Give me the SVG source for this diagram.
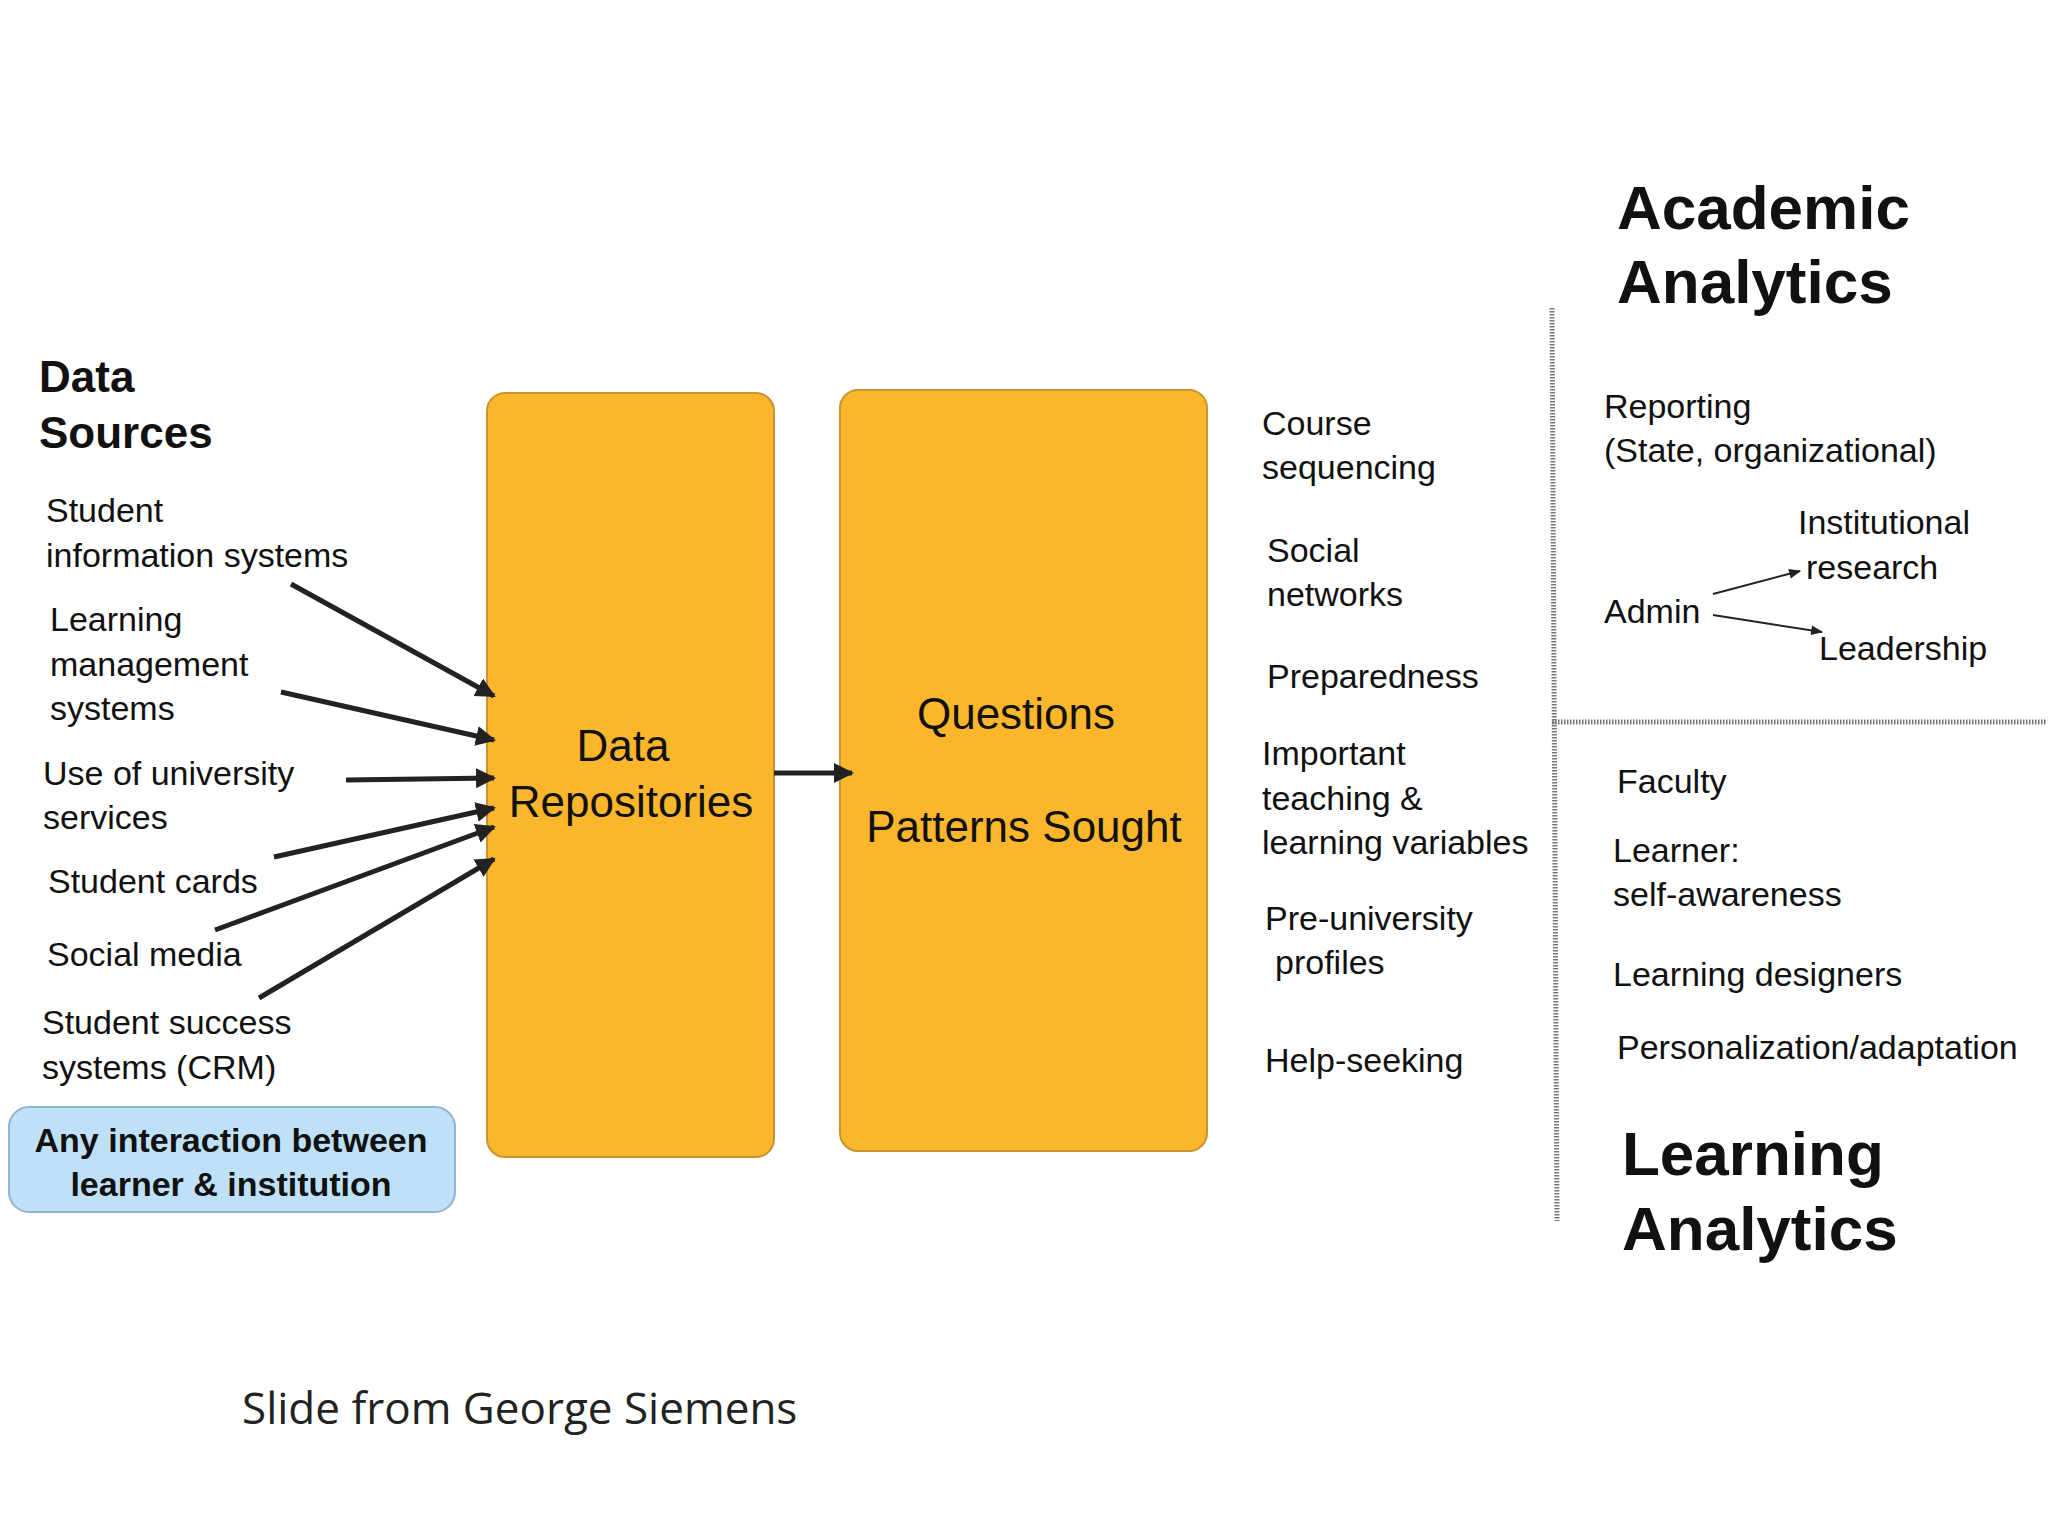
<svg xmlns="http://www.w3.org/2000/svg" width="2048" height="1536" viewBox="0 0 2048 1536">
<defs>
<style>
text{font-family:"Liberation Sans",Arial,sans-serif;fill:#111}
.t{font-size:34px}
.h{font-size:44px;font-weight:bold}
.H{font-size:62px;font-weight:bold}
.box{fill:#FBB62B;stroke:#C99430;stroke-width:2}
.ln{stroke:#222;stroke-width:5;fill:none}
.sl{stroke:#222;stroke-width:2;fill:none}
.dv{stroke:#777;stroke-width:5;stroke-dasharray:1.5 1.5;fill:none}
</style>
<marker id="a" viewBox="0 0 10 10" refX="9" refY="5" markerWidth="4" markerHeight="4" orient="auto"><path d="M0,0L10,5L0,10z" fill="#222"/></marker>
<marker id="s" viewBox="0 0 10 10" refX="9" refY="5" markerWidth="7" markerHeight="6" orient="auto"><path d="M0,1L10,5L0,9z" fill="#222"/></marker>
</defs>
<rect width="2048" height="1536" fill="#fff"/>
<g id="sources">
<text class="h" x="39" y="392">Data</text>
<text class="h" x="39" y="448">Sources</text>
<text class="t" x="46" y="522">Student</text>
<text class="t" x="46" y="567">information systems</text>
<text class="t" x="50" y="631">Learning</text>
<text class="t" x="50" y="676">management</text>
<text class="t" x="50" y="720">systems</text>
<text class="t" x="43" y="785">Use of university</text>
<text class="t" x="43" y="829">services</text>
<text class="t" x="48" y="893">Student cards</text>
<text class="t" x="47" y="966">Social media</text>
<text class="t" x="42" y="1034">Student success</text>
<text class="t" x="42" y="1079">systems (CRM)</text>
</g>
<g id="interaction">
<rect x="9" y="1107" width="446" height="105" rx="20" fill="#BFE1F7" stroke="#8FB3D2" stroke-width="2"/>
<text class="t" x="231" y="1152" text-anchor="middle" font-weight="bold">Any interaction between</text>
<text class="t" x="231" y="1196" text-anchor="middle" font-weight="bold">learner &amp; institution</text>
</g>
<g id="repos">
<rect class="box" x="487" y="393" width="287" height="764" rx="18"/>
<text class="h" style="font-weight:normal" x="623" y="761" text-anchor="middle">Data</text>
<text class="h" style="font-weight:normal" x="631" y="817" text-anchor="middle">Repositories</text>
</g>
<g id="questions">
<rect class="box" x="840" y="390" width="367" height="761" rx="18"/>
<text class="h" style="font-weight:normal" x="1016" y="729" text-anchor="middle">Questions</text>
<text class="h" style="font-weight:normal" x="1024" y="842" text-anchor="middle">Patterns Sought</text>
</g>
<g id="connectors">
<line class="ln" x1="774" y1="773" x2="852" y2="773" stroke-width="9" marker-end="url(#a)"/>
<line class="ln" x1="291" y1="584" x2="494" y2="696" marker-end="url(#a)"/>
<line class="ln" x1="281" y1="692" x2="494" y2="740" marker-end="url(#a)"/>
<line class="ln" x1="346" y1="780" x2="494" y2="778" marker-end="url(#a)"/>
<line class="ln" x1="274" y1="857" x2="494" y2="808" marker-end="url(#a)"/>
<line class="ln" x1="215" y1="930" x2="494" y2="827" marker-end="url(#a)"/>
<line class="ln" x1="259" y1="998" x2="494" y2="859" marker-end="url(#a)"/>
<line class="sl" x1="1713" y1="594" x2="1800" y2="571" marker-end="url(#s)"/>
<line class="sl" x1="1713" y1="615" x2="1822" y2="632" marker-end="url(#s)"/>
</g>
<g id="questions-list">
<text class="t" x="1262" y="435">Course</text>
<text class="t" x="1262" y="479">sequencing</text>
<text class="t" x="1267" y="562">Social</text>
<text class="t" x="1267" y="606">networks</text>
<text class="t" x="1267" y="688">Preparedness</text>
<text class="t" x="1262" y="765">Important</text>
<text class="t" x="1262" y="810">teaching &amp;</text>
<text class="t" x="1262" y="854">learning variables</text>
<text class="t" x="1265" y="930">Pre-university</text>
<text class="t" x="1275" y="974">profiles</text>
<text class="t" x="1265" y="1072">Help-seeking</text>
</g>
<g id="dividers">
<line class="dv" x1="1552" y1="308" x2="1557" y2="1221"/>
<line class="dv" x1="1552" y1="722" x2="2046" y2="722"/>
</g>
<g id="academic">
<text class="H" x="1617" y="229">Academic</text>
<text class="H" x="1617" y="303">Analytics</text>
<text class="t" x="1604" y="418">Reporting</text>
<text class="t" x="1604" y="462">(State, organizational)</text>
<text class="t" x="1798" y="534">Institutional</text>
<text class="t" x="1806" y="579">research</text>
<text class="t" x="1604" y="623">Admin</text>
<text class="t" x="1819" y="660">Leadership</text>
</g>
<g id="learning">
<text class="t" x="1617" y="793">Faculty</text>
<text class="t" x="1613" y="862">Learner:</text>
<text class="t" x="1613" y="906">self-awareness</text>
<text class="t" x="1613" y="986">Learning designers</text>
<text class="t" x="1617" y="1059">Personalization/adaptation</text>
<text class="H" x="1622" y="1175">Learning</text>
<text class="H" x="1622" y="1250">Analytics</text>
</g>
<text x="242" y="1424" font-size="44" style="font-family:'Open Sans','Liberation Sans',sans-serif;fill:#222">Slide from George Siemens</text>
</svg>
